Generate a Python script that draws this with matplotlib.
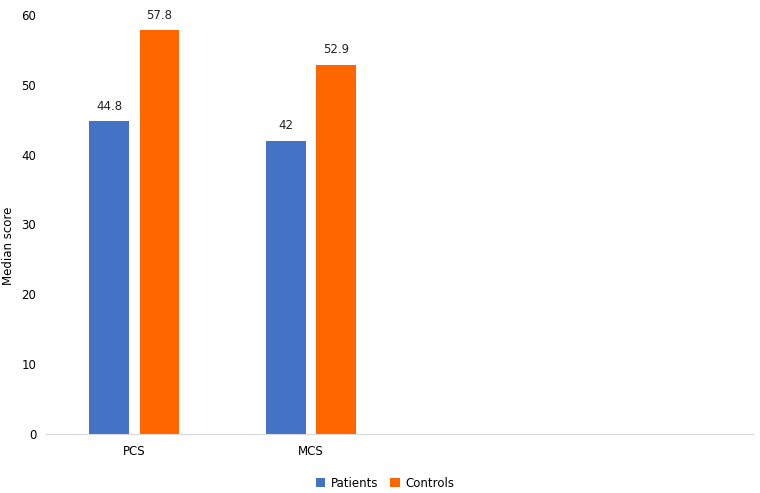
import matplotlib.pyplot as plt
import numpy as np

categories = ["PCS", "MCS", "", ""]
patients = [44.8, 42.0]
controls = [57.8, 52.9]
patient_labels = ["44.8", "42"]
control_labels = ["57.8", "52.9"]

fig = plt.figure(figsize=(7.6, 4.93), dpi=100)
ax = fig.add_axes([0.0605, 0.1197, 0.9305, 0.85])

x = np.arange(len(patients))
w = 0.226
b1 = ax.bar(x - 0.142, patients, w, color="#4472C4", label="Patients")
b2 = ax.bar(x + 0.142, controls, w, color="#FF6600", label="Controls")
ax.bar_label(b1, labels=patient_labels, padding=6, fontsize=8.5, color="#222222")
ax.bar_label(b2, labels=control_labels, padding=6, fontsize=8.5, color="#222222")

ax.set_xlim(-0.5, 3.5)
ax.set_ylim(0, 60)
ax.set_xticks(range(len(categories)))
ax.set_xticklabels(categories, fontsize=8.5)
ax.set_yticks(range(0, 61, 10))
ax.tick_params(axis="y", labelsize=8.5, length=0, pad=7)
ax.tick_params(axis="x", length=0, pad=8)
for s in ["top", "right", "left"]:
    ax.spines[s].set_visible(False)
ax.spines["bottom"].set_color("#d9d9d9")
ax.set_ylabel("Median score", fontsize=8.5)
ax.yaxis.set_label_coords(-0.044, 0.45)

fig.legend(loc="center", bbox_to_anchor=(0.507, 0.02), ncol=2, frameon=False,
           fontsize=8.5, handlelength=0.8, handleheight=0.8, columnspacing=1.0,
           handletextpad=0.5)

fig.savefig("out.png")
